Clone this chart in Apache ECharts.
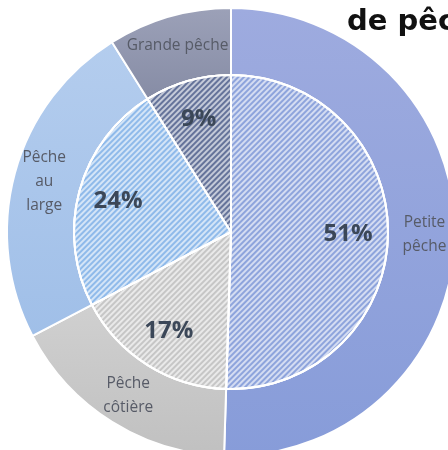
<!DOCTYPE html>
<html><head><meta charset="utf-8">
<script src="https://cdn.jsdelivr.net/npm/echarts@6/dist/echarts.min.js"></script>
<style>html,body{margin:0;padding:0;background:#fff}#c{width:448px;height:450px}</style>
</head><body><div id="c"></div>
<script>
const categories = ['Petite\npêche', 'Pêche\ncôtière', 'Pêche\nau\nlarge', 'Grande pêche'];
const shares = [51, 17, 24, 9];
const pctLabels = ['51%', '17%', '24%', '9%'];
const titleText = 'de pêche';

const outerTop = ['#9eabdf', '#d0d0d0', '#b4cdee', '#9ca1b8'];
const outerBot = ['#879cd9', '#c0c0c0', '#a0bfe8', '#868ca5'];
const innerCol = ['#8ea4dc', '#c6c6c6', '#8fbaea', '#65739a'];

function grad(i){
  return {type:'linear',x:0,y:0,x2:0,y2:1,colorStops:[{offset:0,color:outerTop[i]},{offset:1,color:outerBot[i]}]};
}
const decal = {symbol:'rect', symbolSize:1, dashArrayX:[1,0], dashArrayY:[2,2], rotation:-Math.PI/4, color:'rgba(255,255,255,0.62)'};

const center = [231, 232];
const chart = echarts.init(document.getElementById('c'), null, {renderer:'canvas'});
chart.setOption({
  animation:false,
  graphic:[{type:'text', x:347, y:8, z:100,
    style:{text:titleText, font:'bold 29px "DejaVu Sans"', fill:'#111', align:'left', verticalAlign:'top'}}],
  series:[
    {type:'pie', center:center, radius:[157,224], startAngle:90, clockwise:true, silent:true, z:2,
     itemStyle:{borderColor:'#fff', borderWidth:2},
     label:{position:'inside', color:'#575b67', fontFamily:'Open Sans', fontSize:15.5, lineHeight:24},
     labelLine:{show:false},
     data:categories.map((c,i)=>({name:c, value:shares[i], itemStyle:{color:grad(i)}}))},
    {type:'pie', center:center, radius:[0,157], startAngle:90, clockwise:true, silent:true, z:2,
     itemStyle:{borderColor:'#fff', borderWidth:2},
     label:{show:false}, labelLine:{show:false},
     data:categories.map((c,i)=>({name:c, value:shares[i], itemStyle:{color:innerCol[i], decal:decal}}))},
    {type:'pie', center:center, radius:[0,228], startAngle:90, clockwise:true, silent:true, z:3,
     itemStyle:{color:'rgba(0,0,0,0)'},
     label:{position:'inside', color:'#3b4758', fontFamily:'Open Sans', fontWeight:'bold', fontSize:24,
       formatter:p=>pctLabels[p.dataIndex]},
     labelLine:{show:false},
     data:categories.map((c,i)=>({name:c, value:shares[i]}))}
  ]
});
</script></body></html>
